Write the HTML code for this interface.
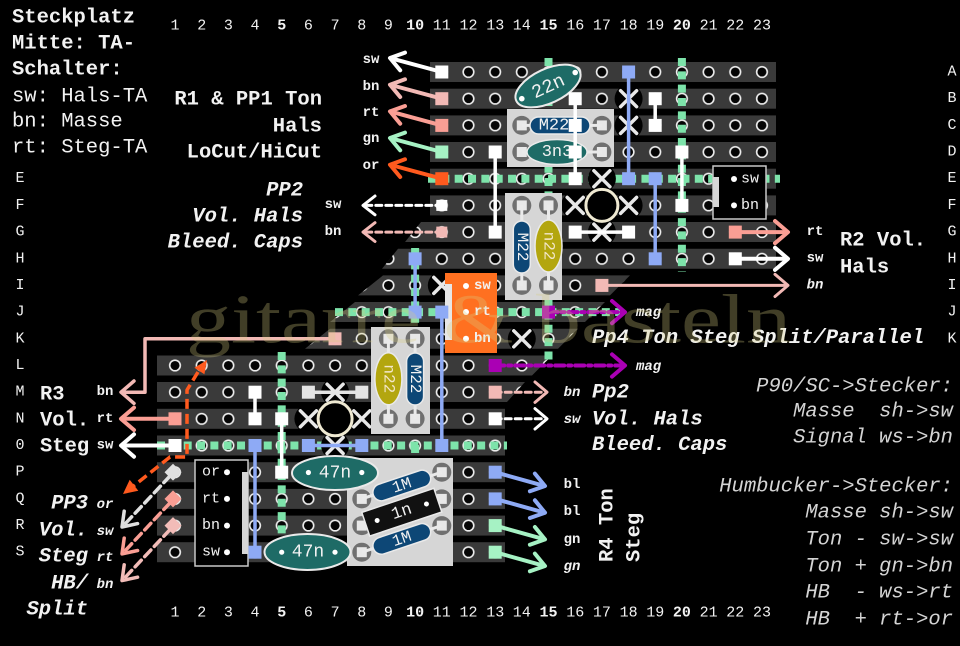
<!DOCTYPE html>
<html><head><meta charset="utf-8"><style>
html,body{margin:0;padding:0;background:#000;}
svg{display:block;}
text{font-family:"Liberation Mono","DejaVu Sans Mono",monospace;fill:#f2f2f2;dominant-baseline:central;}
.b{font-weight:bold;}
.i{font-style:italic;}
.big{font-size:20.5px;}
.sm{font-size:14px;font-weight:bold;}
.num{font-size:15px;}
.leg{font-size:20.5px;font-style:italic;fill:#d4d4d4;text-anchor:end;white-space:pre;}
.m{text-anchor:middle;}
.e{text-anchor:end;}
</style></head><body>
<svg width="960" height="646" viewBox="0 0 960 646" xmlns="http://www.w3.org/2000/svg" xml:space="default">
<defs>
<pattern id="h" x="161.66" y="58.66" width="26.68" height="26.68" patternUnits="userSpaceOnUse"><circle cx="13.34" cy="13.34" r="5.3" fill="#050505" stroke="#eeeeee" stroke-width="1.6"/></pattern>
<g id="st">
<rect x="430" y="62" width="346" height="20"/>
<rect x="430" y="88.7" width="346" height="20"/>
<rect x="430" y="115.4" width="346" height="20"/>
<rect x="430" y="142" width="346" height="20"/>
<rect x="430" y="168.7" width="346" height="20"/>
<rect x="430" y="195.4" width="346" height="20"/>
<polygon points="421,222 776,222 776,242 405,242"/>
<polygon points="398,248.8 776,248.8 776,268.8 382,268.8"/>
<polygon points="383,275.4 630,275.4 610,295.4 358,295.4"/>
<polygon points="355,302 605,302 585,322 330,322"/>
<polygon points="330,328.8 578,328.8 558,348.8 305,348.8"/>
<polygon points="157,355.5 552,355.5 532,375.5 157,375.5"/>
<polygon points="157,382 525,382 507,402 157,402"/>
<rect x="157" y="408.8" width="348" height="20"/>
<rect x="157" y="435.5" width="348" height="20"/>
<rect x="157" y="462.2" width="348" height="20"/>
<rect x="157" y="488.9" width="348" height="20"/>
<rect x="157" y="515.6" width="348" height="20"/>
<rect x="157" y="542.2" width="348" height="20"/>
</g>
</defs>
<rect width="960" height="646" fill="#000"/>
<use href="#st" fill="#3a3a3a"/>
<use href="#st" fill="url(#h)"/>

<g stroke="#7de3aa" stroke-width="8" stroke-dasharray="8 5.34" fill="none">
<line x1="428" y1="178.7" x2="780" y2="178.7"/>
<line x1="681.9" y1="58" x2="681.9" y2="272"/>
<line x1="548.5" y1="58" x2="548.5" y2="362"/>
<line x1="335" y1="312.1" x2="620" y2="312.1"/>
<line x1="415.1" y1="248" x2="415.1" y2="335"/>
<line x1="415.1" y1="445" x2="415.1" y2="466"/>
<line x1="157" y1="445.5" x2="507" y2="445.5"/>
<line x1="281.7" y1="352" x2="281.7" y2="540"/>
</g>

<g fill="#000">
<circle cx="628.6" cy="98.7" r="14"/><circle cx="628.6" cy="125.4" r="14"/>
<circle cx="601.9" cy="178.7" r="14"/><circle cx="575.2" cy="205.4" r="14"/><circle cx="628.6" cy="205.4" r="14"/><circle cx="601.9" cy="232.1" r="14"/>
<circle cx="441.8" cy="285.4" r="14"/><circle cx="521.8" cy="338.8" r="14"/>
<circle cx="335.1" cy="392.2" r="14"/><circle cx="308.4" cy="418.8" r="14"/><circle cx="361.8" cy="418.8" r="14"/><circle cx="335.1" cy="445.5" r="14"/>
</g>
<circle cx="601.9" cy="205.4" r="16" fill="#000" stroke="#efe9d2" stroke-width="3"/>
<circle cx="335.1" cy="418.8" r="17" fill="#000" stroke="#efe9d2" stroke-width="3"/>

<g stroke="#e8e8e8" stroke-width="3.5" stroke-linecap="round">
<path d="M620.6,90.7 L636.6,106.7 M636.6,90.7 L620.6,106.7"/>
<path d="M620.6,117.4 L636.6,133.4 M636.6,117.4 L620.6,133.4"/>
<path d="M593.9,170.7 L609.9,186.7 M609.9,170.7 L593.9,186.7"/>
<path d="M567.2,197.4 L583.2,213.4 M583.2,197.4 L567.2,213.4"/>
<path d="M620.6,197.4 L636.6,213.4 M636.6,197.4 L620.6,213.4"/>
<path d="M593.9,224.1 L609.9,240.1 M609.9,224.1 L593.9,240.1"/>
<path d="M433.8,277.4 L449.8,293.4 M449.8,277.4 L433.8,293.4"/>
<path d="M513.8,330.8 L529.8,346.8 M529.8,330.8 L513.8,346.8"/>
<path d="M327.1,384.2 L343.1,400.2 M343.1,384.2 L327.1,400.2"/>
<path d="M300.4,410.8 L316.4,426.8 M316.4,410.8 L300.4,426.8"/>
<path d="M353.8,410.8 L369.8,426.8 M369.8,410.8 L353.8,426.8"/>
<path d="M327.1,437.5 L343.1,453.5 M343.1,437.5 L327.1,453.5"/>
</g>

<rect x="507" y="109" width="107" height="58" fill="#d6d6d6"/>
<g fill="#707070"><circle cx="521.8" cy="125.4" r="9.5"/><circle cx="521.8" cy="152" r="9.5"/><circle cx="601.9" cy="125.4" r="9.5"/><circle cx="601.9" cy="152" r="9.5"/></g>
<g fill="#e8e8e8"><rect x="516.8" y="120.4" width="10" height="10"/><rect x="516.8" y="147" width="10" height="10"/><rect x="596.9" y="120.4" width="10" height="10"/><rect x="596.9" y="147" width="10" height="10"/></g>
<g stroke="#eaeaea" stroke-width="3"><line x1="522" y1="125.4" x2="532" y2="125.4"/><line x1="588" y1="125.4" x2="602" y2="125.4"/><line x1="522" y1="152" x2="530" y2="152"/><line x1="584" y1="152" x2="602" y2="152"/></g>
<rect x="530" y="117" width="60" height="17" rx="8.5" fill="#0d4776" stroke="#eaeaea" stroke-width="1.5"/>
<text x="554" y="126" class="m" style="font-size:17px">M22</text>
<ellipse cx="557" cy="152" rx="30" ry="12.5" fill="#1e6b66" stroke="#eaeaea" stroke-width="1.5"/>
<text x="557" y="152.5" class="m" style="font-size:17px">3n3</text>
<g transform="translate(548,86) rotate(-25)"><ellipse rx="35" ry="17" fill="#1e6b66" stroke="#eaeaea" stroke-width="2"/><text x="0" y="1" class="m" style="font-size:19px">22n</text></g>
<circle cx="521.8" cy="98.7" r="2.8" fill="#fff"/><circle cx="575.2" cy="72.5" r="2.8" fill="#fff"/>

<rect x="505" y="193" width="57" height="107" fill="#d6d6d6"/>
<g fill="#707070"><circle cx="521.8" cy="205.4" r="9.5"/><circle cx="548.5" cy="205.4" r="9.5"/><circle cx="521.8" cy="285.4" r="9.5"/><circle cx="548.5" cy="285.4" r="9.5"/></g>
<g fill="#e8e8e8"><rect x="516.8" y="200.4" width="10" height="10"/><rect x="543.5" y="200.4" width="10" height="10"/><rect x="516.8" y="280.4" width="10" height="10"/><rect x="543.5" y="280.4" width="10" height="10"/></g>
<g stroke="#eaeaea" stroke-width="3"><line x1="521.8" y1="205" x2="521.8" y2="286"/><line x1="548.5" y1="205" x2="548.5" y2="286"/></g>
<rect x="513.3" y="221" width="17" height="52" rx="8.5" fill="#0d4776" stroke="#eaeaea" stroke-width="1.5"/>
<text transform="translate(521.8,247) rotate(90)" class="m" style="font-size:16px">M22</text>
<ellipse cx="548.5" cy="246" rx="13.5" ry="26" fill="#b3a60f" stroke="#eaeaea" stroke-width="1.5"/>
<text transform="translate(548.5,246) rotate(90)" class="m" style="font-size:16px;fill:#f3e7c8">n22</text>

<rect x="371" y="327" width="59" height="107" fill="#d6d6d6"/>
<g fill="#707070"><circle cx="388.4" cy="338.8" r="9.5"/><circle cx="415.1" cy="338.8" r="9.5"/><circle cx="388.4" cy="418.8" r="9.5"/><circle cx="415.1" cy="418.8" r="9.5"/></g>
<g fill="#e8e8e8"><rect x="383.4" y="333.8" width="10" height="10"/><rect x="410.1" y="333.8" width="10" height="10"/><rect x="383.4" y="413.8" width="10" height="10"/><rect x="410.1" y="413.8" width="10" height="10"/></g>
<g stroke="#eaeaea" stroke-width="3"><line x1="388.4" y1="339" x2="388.4" y2="419"/><line x1="415.1" y1="339" x2="415.1" y2="419"/></g>
<ellipse cx="388.4" cy="378.8" rx="13.5" ry="26" fill="#b3a60f" stroke="#eaeaea" stroke-width="1.5"/>
<text transform="translate(388.4,378.8) rotate(90)" class="m" style="font-size:16px;fill:#f3e7c8">n22</text>
<rect x="406.6" y="353" width="17" height="52" rx="8.5" fill="#0d4776" stroke="#eaeaea" stroke-width="1.5"/>
<text transform="translate(415.1,379) rotate(90)" class="m" style="font-size:16px">M22</text>

<rect x="445" y="273" width="52" height="80" fill="#ff7020"/>
<rect x="445" y="284" width="7" height="56" fill="#e6e6e6"/>
<g fill="#fff"><circle cx="466" cy="286" r="3"/><circle cx="466" cy="312" r="3"/><circle cx="466" cy="338.8" r="3"/></g>
<text x="474" y="286" class="sm">sw</text><text x="474" y="312" class="sm">rt</text><text x="474" y="339" class="sm">bn</text>

<rect x="713" y="166" width="53" height="53" fill="#000" stroke="#c8c8c8" stroke-width="1.5"/>
<rect x="713" y="177" width="6" height="30" fill="#d6d6d6"/>
<g fill="#fff"><circle cx="734" cy="179" r="3"/><circle cx="734" cy="205.4" r="3"/></g>
<text x="741" y="179" style="font-size:15px">sw</text><text x="741" y="205.4" style="font-size:15px">bn</text>

<rect x="195" y="460" width="53" height="106" fill="#000" stroke="#c8c8c8" stroke-width="1.5"/>
<rect x="242" y="472" width="6" height="82" fill="#d6d6d6"/>
<g fill="#fff"><circle cx="227" cy="472.2" r="3"/><circle cx="227" cy="498.9" r="3"/><circle cx="227" cy="525.6" r="3"/><circle cx="227" cy="552.2" r="3"/></g>
<text x="202" y="472.2" style="font-size:15px">or</text><text x="202" y="498.9" style="font-size:15px">rt</text><text x="202" y="525.6" style="font-size:15px">bn</text><text x="202" y="552.2" style="font-size:15px">sw</text>

<rect x="347" y="458" width="106" height="108" fill="#d6d6d6"/>
<g fill="#707070"><circle cx="361.8" cy="498.9" r="9.5"/><circle cx="361.8" cy="525.6" r="9.5"/><circle cx="361.8" cy="552.2" r="9.5"/><circle cx="441.8" cy="472.2" r="9.5"/><circle cx="441.8" cy="498.9" r="9.5"/><circle cx="441.8" cy="525.6" r="9.5"/></g>
<g fill="#e8e8e8"><rect x="356.8" y="493.9" width="10" height="10"/><rect x="356.8" y="520.6" width="10" height="10"/><rect x="356.8" y="547.2" width="10" height="10"/><rect x="436.8" y="467.2" width="10" height="10"/><rect x="436.8" y="493.9" width="10" height="10"/><rect x="436.8" y="520.6" width="10" height="10"/></g>
<g transform="translate(401.8,485.5) rotate(-18.5)"><line x1="-42" y1="0" x2="42" y2="0" stroke="#eaeaea" stroke-width="3"/><rect x="-30" y="-8.5" width="60" height="17" rx="8.5" fill="#0d4776" stroke="#eaeaea" stroke-width="1.5"/><text x="0" y="0.5" class="m" style="font-size:16px">1M</text></g>
<g transform="translate(401.8,512.2) rotate(-18.5)"><rect x="-38" y="-12.5" width="76" height="25" fill="#111" stroke="#eaeaea" stroke-width="1.5"/><circle cx="-26" cy="0" r="2.5" fill="#fff"/><circle cx="26" cy="0" r="2.5" fill="#fff"/><text x="0" y="0.5" class="m" style="font-size:17px">1n</text></g>
<g transform="translate(401.8,538.9) rotate(-18.5)"><line x1="-42" y1="0" x2="42" y2="0" stroke="#eaeaea" stroke-width="3"/><rect x="-30" y="-8.5" width="60" height="17" rx="8.5" fill="#0d4776" stroke="#eaeaea" stroke-width="1.5"/><text x="0" y="0.5" class="m" style="font-size:16px">1M</text></g>

<ellipse cx="335" cy="473" rx="43" ry="17" fill="#1e6b66" stroke="#eaeaea" stroke-width="2"/>
<circle cx="308.4" cy="472.5" r="2.6" fill="#fff"/><circle cx="361.8" cy="472.5" r="2.6" fill="#fff"/>
<text x="335" y="473.5" class="m" style="font-size:18px">47n</text>
<ellipse cx="307.5" cy="552" rx="43" ry="18" fill="#1e6b66" stroke="#eaeaea" stroke-width="2"/>
<circle cx="281.7" cy="552.2" r="2.6" fill="#fff"/><circle cx="335" cy="552.2" r="2.6" fill="#fff"/>
<text x="308" y="552.5" class="m" style="font-size:18px">47n</text>

<g stroke="#fff" stroke-width="3.5" fill="none">
<line x1="495.2" y1="152" x2="495.2" y2="232.1"/>
<line x1="575.2" y1="98.7" x2="575.2" y2="178.7"/>
<line x1="655.2" y1="98.7" x2="655.2" y2="125.4"/>
<line x1="681.9" y1="152" x2="681.9" y2="205.4"/>
<line x1="575.2" y1="232.1" x2="628.6" y2="232.1"/>
<line x1="255" y1="392.2" x2="255" y2="418.8"/>
<line x1="281.7" y1="418.8" x2="281.7" y2="472.2"/>
<line x1="308.4" y1="392.2" x2="361.8" y2="392.2" stroke="#e4e4e4"/>
</g>
<g stroke="#8eaaf5" stroke-width="3.5" fill="none">
<line x1="628.6" y1="72" x2="628.6" y2="178.7"/>
<line x1="655.2" y1="178.7" x2="655.2" y2="258.8"/>
<line x1="415.1" y1="258.8" x2="415.1" y2="312.1"/>
<line x1="441.8" y1="312.1" x2="441.8" y2="445.5"/>
<line x1="255" y1="445.5" x2="255" y2="552.2"/>
<line x1="308.4" y1="445.5" x2="361.8" y2="445.5"/>
</g>

<g stroke-width="4" fill="none" stroke-linecap="round" stroke-linejoin="round">
<g stroke="#fff"><line x1="441.8" y1="72" x2="391" y2="58.3"/><path d="M400.2,70.3 L390,58 L405,52.6"/></g>
<g stroke="#f2b9b5"><line x1="441.8" y1="98.7" x2="391" y2="85"/><path d="M400.2,97 L390,84.7 L405,79.3"/></g>
<g stroke="#fa9e94"><line x1="441.8" y1="125.4" x2="391" y2="111.7"/><path d="M400.2,123.7 L390,111.4 L405,106"/></g>
<g stroke="#a6f2c4"><line x1="441.8" y1="152" x2="391" y2="138.3"/><path d="M400.2,150.3 L390,138 L405,132.6"/></g>
<g stroke="#ff5a1e"><line x1="441.8" y1="178.7" x2="391" y2="165"/><path d="M400.2,177 L390,164.7 L405,159.3"/></g>
<g stroke="#fa9e94"><line x1="735.3" y1="232.1" x2="787" y2="232.1"/><path d="M775,221 L788,232.1 L775,243.2"/></g>
<g stroke="#fff"><line x1="735.3" y1="258.8" x2="787" y2="258.8"/><path d="M775,247.7 L788,258.8 L775,269.9"/></g>
<g stroke="#f2b9b5" stroke-width="3"><line x1="601.9" y1="285.4" x2="787" y2="285.4"/><path d="M775,274.3 L788,285.4 L775,296.5"/></g>
<g stroke="#f2b9b5" stroke-width="3.5"><path d="M335,338.8 L145,338.8 L145,392.2 L122,392.2"/><path d="M134,381 L121,392.2 L134,403.4"/></g>
<g stroke="#fa9e94"><line x1="175" y1="418.8" x2="122" y2="418.8"/><path d="M134,407.6 L121,418.8 L134,430"/></g>
<g stroke="#fff"><line x1="175" y1="445.5" x2="122" y2="445.5"/><path d="M134,434.3 L121,445.5 L134,456.7"/></g>
<g stroke="#8eaaf5"><line x1="495.2" y1="472.2" x2="544" y2="485.8"/><path d="M534.9,473.6 L545,486 L529.9,491.3"/></g>
<g stroke="#8eaaf5"><line x1="495.2" y1="498.9" x2="544" y2="512.5"/><path d="M534.9,500.3 L545,512.7 L529.9,518"/></g>
<g stroke="#a6f2c4"><line x1="495.2" y1="525.6" x2="544" y2="539.2"/><path d="M534.9,527 L545,539.4 L529.9,544.7"/></g>
<g stroke="#a6f2c4"><line x1="495.2" y1="552.2" x2="544" y2="565.8"/><path d="M534.9,553.6 L545,566 L529.9,571.3"/></g>
</g>

<g stroke-width="3" fill="none" stroke-linecap="round" stroke-linejoin="round">
<g stroke="#fff"><line x1="441.8" y1="205.4" x2="364" y2="205.4" stroke-dasharray="6 4"/><path d="M375,196 L363,205.4 L375,214.8"/></g>
<g stroke="#f2b9b5"><line x1="441.8" y1="232.1" x2="364" y2="232.1" stroke-dasharray="6 4"/><path d="M375,222.7 L363,232.1 L375,241.5"/></g>
<g stroke="#f2b9b5"><line x1="495.2" y1="392.2" x2="545" y2="392.2" stroke-dasharray="6 4"/><path d="M535,382 L547,392.2 L535,402.4"/></g>
<g stroke="#fff"><line x1="495.2" y1="418.8" x2="545" y2="418.8" stroke-dasharray="6 4"/><path d="M535,408.6 L547,418.8 L535,429"/></g>
<g stroke="#aa00b4" stroke-width="4"><line x1="548.5" y1="312.1" x2="622" y2="312.1" stroke-dasharray="9 4 3 4"/><path d="M612,301 L625,312.1 L612,323.2"/></g>
<g stroke="#aa00b4" stroke-width="4"><line x1="495.2" y1="365.5" x2="622" y2="365.5" stroke-dasharray="9 4 3 4"/><path d="M612,354.4 L625,365.5 L612,376.6"/></g>
<path d="M198,372 L187,390 L187,457 L170,457 L131,488" stroke="#ff5a1e" stroke-width="3.5" stroke-dasharray="10 5" stroke-linecap="butt"/>
<g stroke="#e0e0e0" stroke-width="3.5"><line x1="170" y1="476" x2="125" y2="524" stroke-dasharray="9 5"/><path d="M137.6,523.6 L122,527 L124.2,511.2"/></g>
<g stroke="#fa9e94" stroke-width="3.5"><line x1="170" y1="502.9" x2="125" y2="550.9" stroke-dasharray="9 5"/><path d="M137.6,550.5 L122,553.9 L124.2,538.1"/></g>
<g stroke="#f2bcb8" stroke-width="3.5"><line x1="170" y1="529.6" x2="125" y2="577.6" stroke-dasharray="9 5"/><path d="M137.6,577.2 L122,580.6 L124.2,564.8"/></g>
</g>
<polygon points="207,360 204.4,374.3 194.4,367.7" fill="#ff5a1e"/>
<polygon points="123,494 138.3,490.8 129.7,479.8" fill="#ff5a1e"/>
<rect x="-6" y="-6" width="12" height="12" transform="translate(173,472.2) rotate(45)" fill="#e0e0e0"/>
<rect x="-6" y="-6" width="12" height="12" transform="translate(173,498.9) rotate(45)" fill="#fa9e94"/>
<rect x="-6" y="-6" width="12" height="12" transform="translate(173,525.6) rotate(45)" fill="#f2bcb8"/>

<g fill="#fff">
<rect x="435.3" y="65.5" width="13" height="13"/>
<rect x="436.3" y="199.9" width="11" height="11"/>
<rect x="488.7" y="145.5" width="13" height="13"/><rect x="488.7" y="225.6" width="13" height="13"/>
<rect x="568.7" y="92.2" width="13" height="13"/><rect x="568.7" y="118.9" width="13" height="13"/><rect x="568.7" y="145.5" width="13" height="13"/><rect x="568.7" y="172.2" width="13" height="13"/>
<rect x="648.7" y="92.2" width="13" height="13"/><rect x="648.7" y="118.9" width="13" height="13"/>
<rect x="675.4" y="145.5" width="13" height="13"/><rect x="675.4" y="198.9" width="13" height="13"/>
<rect x="568.7" y="225.6" width="13" height="13"/><rect x="622.1" y="225.6" width="13" height="13"/>
<rect x="728.8" y="252.3" width="13" height="13"/>
<rect x="248.5" y="385.7" width="13" height="13"/><rect x="248.5" y="412.3" width="13" height="13"/>
<rect x="275.2" y="412.3" width="13" height="13"/><rect x="275.2" y="465.7" width="13" height="13"/>
<rect x="168.5" y="439" width="13" height="13"/>
<rect x="488.7" y="412.3" width="13" height="13"/>
</g>
<g fill="#e4e4e4"><rect x="301.9" y="385.7" width="13" height="13"/><rect x="355.3" y="385.7" width="13" height="13"/></g>
<g fill="#f2b9b5">
<rect x="435.3" y="92.2" width="13" height="13"/>
<rect x="436.3" y="226.6" width="11" height="11"/>
<rect x="595.4" y="278.9" width="13" height="13"/>
<rect x="328.5" y="332.3" width="13" height="13"/>
<rect x="488.7" y="385.7" width="13" height="13"/>
</g>
<g fill="#fa9e94"><rect x="435.3" y="118.9" width="13" height="13"/><rect x="728.8" y="225.6" width="13" height="13"/><rect x="168.5" y="412.3" width="13" height="13"/></g>
<g fill="#a6f2c4"><rect x="435.3" y="145.5" width="13" height="13"/><rect x="488.7" y="519.1" width="13" height="13"/><rect x="488.7" y="545.7" width="13" height="13"/></g>
<rect x="435.3" y="172.2" width="13" height="13" fill="#ff5a1e"/>
<g fill="#8eaaf5">
<rect x="622.1" y="65.5" width="13" height="13"/><rect x="622.1" y="172.2" width="13" height="13"/>
<rect x="648.7" y="172.2" width="13" height="13"/><rect x="648.7" y="252.3" width="13" height="13"/>
<rect x="408.6" y="252.3" width="13" height="13"/><rect x="408.6" y="305.6" width="13" height="13"/>
<rect x="435.3" y="305.6" width="13" height="13"/><rect x="435.3" y="439" width="13" height="13"/>
<rect x="248.5" y="439" width="13" height="13"/><rect x="248.5" y="545.7" width="13" height="13"/>
<rect x="301.9" y="439" width="13" height="13"/><rect x="355.3" y="439" width="13" height="13"/>
<rect x="488.7" y="465.7" width="13" height="13"/><rect x="488.7" y="492.4" width="13" height="13"/>
</g>
<g fill="#aa00b4"><rect x="542" y="305.6" width="13" height="13"/><rect x="488.7" y="359" width="13" height="13"/></g>

<g class="num">
<text x="175" y="26" class="m num">1</text><text x="201.7" y="26" class="m num">2</text><text x="228.4" y="26" class="m num">3</text><text x="255" y="26" class="m num">4</text><text x="281.7" y="26" class="m num b">5</text><text x="308.4" y="26" class="m num">6</text><text x="335.1" y="26" class="m num">7</text><text x="361.8" y="26" class="m num">8</text><text x="388.4" y="26" class="m num">9</text><text x="415.1" y="26" class="m num b">10</text><text x="441.8" y="26" class="m num">11</text><text x="468.5" y="26" class="m num">12</text><text x="495.2" y="26" class="m num">13</text><text x="521.8" y="26" class="m num">14</text><text x="548.5" y="26" class="m num b">15</text><text x="575.2" y="26" class="m num">16</text><text x="601.9" y="26" class="m num">17</text><text x="628.6" y="26" class="m num">18</text><text x="655.2" y="26" class="m num">19</text><text x="681.9" y="26" class="m num b">20</text><text x="708.6" y="26" class="m num">21</text><text x="735.3" y="26" class="m num">22</text><text x="762" y="26" class="m num">23</text>
<text x="175" y="613" class="m num">1</text><text x="201.7" y="613" class="m num">2</text><text x="228.4" y="613" class="m num">3</text><text x="255" y="613" class="m num">4</text><text x="281.7" y="613" class="m num b">5</text><text x="308.4" y="613" class="m num">6</text><text x="335.1" y="613" class="m num">7</text><text x="361.8" y="613" class="m num">8</text><text x="388.4" y="613" class="m num">9</text><text x="415.1" y="613" class="m num b">10</text><text x="441.8" y="613" class="m num">11</text><text x="468.5" y="613" class="m num">12</text><text x="495.2" y="613" class="m num">13</text><text x="521.8" y="613" class="m num">14</text><text x="548.5" y="613" class="m num b">15</text><text x="575.2" y="613" class="m num">16</text><text x="601.9" y="613" class="m num">17</text><text x="628.6" y="613" class="m num">18</text><text x="655.2" y="613" class="m num">19</text><text x="681.9" y="613" class="m num b">20</text><text x="708.6" y="613" class="m num">21</text><text x="735.3" y="613" class="m num">22</text><text x="762" y="613" class="m num">23</text>
</g>
<g>
<text x="952" y="72" class="m num">A</text><text x="952" y="98.7" class="m num">B</text><text x="952" y="125.4" class="m num">C</text><text x="952" y="152" class="m num">D</text><text x="952" y="178.7" class="m num">E</text><text x="952" y="205.4" class="m num">F</text><text x="952" y="232.1" class="m num">G</text><text x="952" y="258.8" class="m num">H</text><text x="952" y="285.4" class="m num">I</text><text x="952" y="312.1" class="m num">J</text><text x="952" y="338.8" class="m num">K</text>
<text x="20" y="178.7" class="m num">E</text><text x="20" y="205.4" class="m num">F</text><text x="20" y="232.1" class="m num">G</text><text x="20" y="258.8" class="m num">H</text><text x="20" y="285.4" class="m num">I</text><text x="20" y="312.1" class="m num">J</text><text x="20" y="338.8" class="m num">K</text><text x="20" y="365.5" class="m num">L</text><text x="20" y="392.2" class="m num">M</text><text x="20" y="418.8" class="m num">N</text><text x="20" y="445.5" class="m num">0</text><text x="20" y="472.2" class="m num">P</text><text x="20" y="498.9" class="m num">Q</text><text x="20" y="525.6" class="m num">R</text><text x="20" y="552.2" class="m num">S</text>
</g>

<text x="12" y="18" class="b big">Steckplatz</text>
<text x="12" y="44" class="b big">Mitte: TA-</text>
<text x="12" y="70" class="b big">Schalter:</text>
<text x="12" y="97" class="big">sw: Hals-TA</text>
<text x="12" y="122" class="big">bn: Masse</text>
<text x="12" y="148" class="big">rt: Steg-TA</text>

<text x="322" y="100" class="b big e">R1 &amp; PP1 Ton</text>
<text x="322" y="127" class="b big e">Hals</text>
<text x="322" y="153" class="b big e">LoCut/HiCut</text>

<text x="303" y="191" class="b i big e">PP2</text>
<text x="303" y="217" class="b i big e">Vol. Hals</text>
<text x="303" y="243" class="b i big e">Bleed. Caps</text>

<text x="371" y="60" class="sm m">sw</text>
<text x="371" y="87" class="sm m">bn</text>
<text x="371" y="113" class="sm m">rt</text>
<text x="371" y="139" class="sm m">gn</text>
<text x="371" y="166" class="sm m">or</text>
<text x="333" y="205" class="sm m">sw</text>
<text x="333" y="232" class="sm m">bn</text>

<text x="815" y="232" class="sm m">rt</text>
<text x="815" y="258.5" class="sm m">sw</text>
<text x="815" y="285.5" class="sm m i">bn</text>
<text x="840" y="241" class="b big">R2 Vol.</text>
<text x="840" y="268" class="b big">Hals</text>

<text x="636" y="313" class="sm i">mag</text>
<text x="636" y="367" class="sm i">mag</text>
<text x="592" y="338.5" class="b i big">Pp4 Ton Steg Split/Parallel</text>
<text x="572" y="393" class="sm i m">bn</text>
<text x="572" y="420" class="sm i m">sw</text>
<text x="592" y="393" class="b i big">Pp2</text>
<text x="592" y="420" class="b i big">Vol. Hals</text>
<text x="592" y="445.5" class="b i big">Bleed. Caps</text>

<text x="953" y="387" class="leg">P90/SC-&gt;Stecker:</text>
<text x="953" y="412" class="leg" xml:space="preserve">Masse  sh-&gt;sw</text>
<text x="953" y="438" class="leg">Signal ws-&gt;bn</text>
<text x="953" y="487" class="leg">Humbucker-&gt;Stecker:</text>
<text x="953" y="513" class="leg">Masse sh-&gt;sw</text>
<text x="953" y="540" class="leg">Ton - sw-&gt;sw</text>
<text x="953" y="567" class="leg">Ton + gn-&gt;bn</text>
<text x="953" y="593" class="leg" xml:space="preserve">HB  - ws-&gt;rt</text>
<text x="953" y="620" class="leg" xml:space="preserve">HB  + rt-&gt;or</text>

<text transform="translate(608,562) rotate(-90)" class="b big">R4 Ton</text>
<text transform="translate(635,562) rotate(-90)" class="b big">Steg</text>
<text x="572" y="485" class="sm m">bl</text>
<text x="572" y="512" class="sm m">bl</text>
<text x="572" y="540" class="sm m">gn</text>
<text x="572" y="567" class="sm m i">gn</text>

<text x="40" y="395" class="b big">R3</text>
<text x="40" y="421" class="b big">Vol.</text>
<text x="40" y="447" class="b big">Steg</text>
<text x="105" y="392" class="sm m">bn</text>
<text x="105" y="419" class="sm m">rt</text>
<text x="105" y="445.5" class="sm m">sw</text>

<text x="88" y="504" class="b i big e">PP3</text>
<text x="88" y="531" class="b i big e">Vol.</text>
<text x="88" y="557" class="b i big e">Steg</text>
<text x="88" y="584" class="b i big e">HB/</text>
<text x="88" y="610" class="b i big e">Split</text>
<text x="105" y="505" class="sm m i">or</text>
<text x="105" y="532" class="sm m i">sw</text>
<text x="105" y="558" class="sm m i">rt</text>
<text x="105" y="585" class="sm m i">bn</text>

<text x="186" y="320" textLength="605" lengthAdjust="spacingAndGlyphs" style="font-family:'Liberation Serif',serif;font-size:70px;fill:#d6cc80;fill-opacity:0.3;dominant-baseline:central">gitarre &amp; basteln</text>
</svg>
</body></html>
